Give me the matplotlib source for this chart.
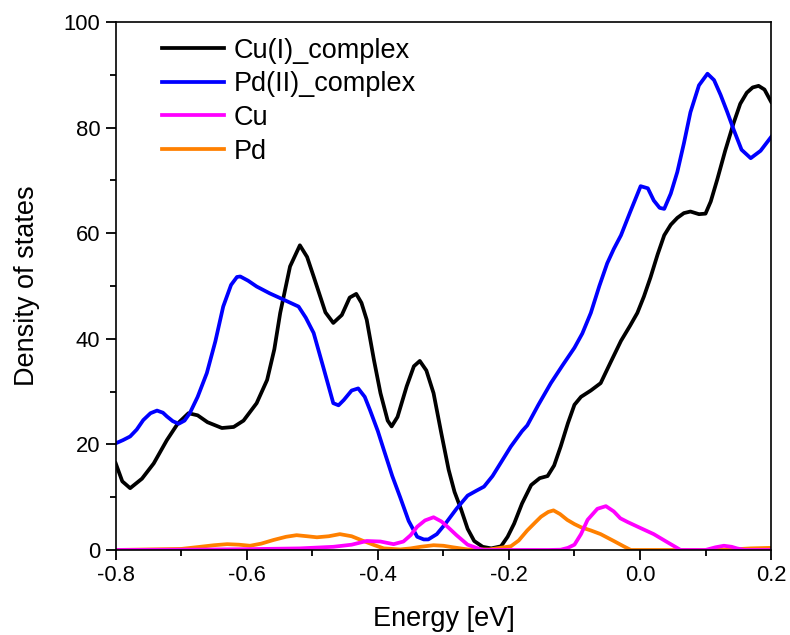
import numpy as np
import matplotlib
matplotlib.use('Agg')
import matplotlib.pyplot as plt
from matplotlib.ticker import MultipleLocator, FormatStrFormatter

plt.rcParams['font.family'] = ['Liberation Sans', 'DejaVu Sans']
plt.rcParams['axes.unicode_minus'] = False

# Cu(I)_complex (black)
cu1_x = [-0.800, -0.790, -0.778, -0.760, -0.742, -0.722, -0.705, -0.689, -0.675, -0.660,
         -0.638, -0.620, -0.605, -0.585, -0.569, -0.558, -0.549, -0.534, -0.519, -0.508,
         -0.498, -0.480, -0.468, -0.455, -0.443, -0.433, -0.425, -0.417, -0.406, -0.396,
         -0.385, -0.379, -0.370, -0.356, -0.345, -0.336, -0.326, -0.315, -0.303, -0.292,
         -0.283, -0.273, -0.263, -0.253, -0.240, -0.227, -0.212, -0.202, -0.192, -0.180,
         -0.166, -0.153, -0.141, -0.131, -0.121, -0.110, -0.100, -0.090, -0.075, -0.060,
         -0.045, -0.029, -0.015, -0.004, 0.006, 0.016, 0.027, 0.037, 0.047, 0.057,
         0.067, 0.077, 0.090, 0.100, 0.108, 0.118, 0.130, 0.143, 0.153, 0.163,
         0.172, 0.181, 0.190, 0.200]
cu1_y = [16.4, 13.0, 11.7, 13.5, 16.4, 20.8, 24.0, 25.9, 25.5, 24.2,
         23.1, 23.3, 24.5, 27.8, 32.2, 38.0, 44.9, 53.7, 57.7, 55.5,
         51.8, 45.0, 43.0, 44.5, 47.8, 48.5, 46.8, 43.6, 36.0, 29.7,
         24.5, 23.4, 25.2, 31.0, 34.8, 35.8, 34.0, 29.7, 22.0, 15.2,
         11.0, 7.7, 4.0, 1.7, 0.6, 0.3, 0.7, 2.5, 5.0, 8.8,
         12.3, 13.6, 14.0, 16.0, 19.6, 24.0, 27.5, 29.0, 30.2, 31.6,
         35.5, 39.6, 42.5, 44.9, 48.0, 51.6, 56.0, 59.6, 61.6, 62.9,
         63.8, 64.1, 63.6, 63.7, 66.0, 70.2, 75.6, 80.9, 84.5, 86.6,
         87.6, 87.9, 87.2, 84.9]

# Pd(II)_complex (blue)
pd2_x = [-0.800, -0.789, -0.778, -0.768, -0.758, -0.747, -0.737, -0.728, -0.722, -0.713,
         -0.704, -0.695, -0.687, -0.675, -0.661, -0.648, -0.636, -0.624, -0.615, -0.610,
         -0.598, -0.585, -0.565, -0.549, -0.535, -0.521, -0.510, -0.498, -0.483, -0.468,
         -0.460, -0.452, -0.440, -0.430, -0.420, -0.412, -0.400, -0.391, -0.378, -0.366,
         -0.353, -0.340, -0.330, -0.323, -0.310, -0.298, -0.280, -0.263, -0.250, -0.238,
         -0.225, -0.210, -0.197, -0.180, -0.172, -0.155, -0.136, -0.118, -0.100, -0.088,
         -0.075, -0.062, -0.050, -0.040, -0.029, -0.015, 0.001, 0.012, 0.021, 0.030,
         0.037, 0.047, 0.057, 0.067, 0.077, 0.090, 0.103, 0.113, 0.123, 0.133,
         0.143, 0.155, 0.169, 0.184, 0.200]
pd2_y = [20.2, 20.8, 21.5, 22.8, 24.6, 25.9, 26.4, 26.0, 25.3, 24.4,
         23.9, 24.5, 25.9, 29.0, 33.5, 39.5, 46.1, 50.2, 51.7, 51.8,
         51.0, 49.9, 48.6, 47.7, 46.9, 46.1, 44.0, 41.1, 34.5, 27.8,
         27.4, 28.4, 30.2, 30.6, 29.0, 26.5, 22.5, 19.0, 14.0, 10.0,
         5.5, 2.5, 2.0, 2.0, 3.0, 4.8, 7.8, 10.3, 11.2, 12.0,
         14.0, 17.0, 19.6, 22.5, 23.6, 27.5, 31.6, 35.0, 38.3, 41.0,
         44.9, 50.0, 54.3, 57.0, 59.6, 64.0, 68.9, 68.5, 66.2, 64.8,
         64.6, 67.5, 71.6, 77.0, 82.9, 88.0, 90.2, 89.0, 86.2, 83.0,
         79.6, 75.8, 74.2, 75.6, 78.2]

# Cu (magenta)
cu_x = [-0.800, -0.700, -0.600, -0.519, -0.468, -0.440, -0.417, -0.396, -0.376, -0.361,
        -0.350, -0.340, -0.328, -0.315, -0.303, -0.292, -0.280, -0.263, -0.245, -0.238,
        -0.200, -0.140, -0.121, -0.110, -0.100, -0.090, -0.080, -0.065, -0.052, -0.040,
        -0.030, -0.019, 0.000, 0.021, 0.040, 0.062, 0.100, 0.115, 0.128, 0.140,
        0.148, 0.160, 0.200]
cu_y = [0.0, 0.05, 0.15, 0.3, 0.6, 1.0, 1.7, 1.6, 1.1, 1.6,
        2.8, 4.4, 5.6, 6.2, 5.4, 4.2, 2.8, 1.0, 0.2, 0.0,
        0.0, 0.0, 0.05, 0.4, 1.0, 3.0, 5.7, 7.8, 8.3, 7.3,
        6.0, 5.3, 4.2, 3.0, 1.6, 0.0, 0.0, 0.5, 0.8, 0.6,
        0.3, 0.0, 0.0]

# Pd (orange)
pd_x = [-0.800, -0.700, -0.671, -0.650, -0.630, -0.612, -0.595, -0.578, -0.559, -0.540,
        -0.524, -0.508, -0.493, -0.475, -0.458, -0.440, -0.422, -0.405, -0.391, -0.366,
        -0.350, -0.335, -0.315, -0.300, -0.285, -0.263, -0.230, -0.197, -0.185, -0.172,
        -0.160, -0.151, -0.140, -0.132, -0.122, -0.111, -0.100, -0.090, -0.075, -0.060,
        -0.040, -0.025, -0.014, 0.100, 0.140, 0.169, 0.200]
pd_y = [0.0, 0.2, 0.6, 0.9, 1.1, 1.0, 0.8, 1.2, 1.9, 2.5,
        2.8, 2.6, 2.4, 2.6, 3.0, 2.6, 1.7, 0.9, 0.3, 0.1,
        0.3, 0.6, 0.9, 0.8, 0.5, 0.1, 0.1, 0.7, 1.8, 3.7,
        5.2, 6.3, 7.2, 7.5, 6.8, 5.7, 4.9, 4.3, 3.7, 3.0,
        1.7, 0.7, 0.0, 0.0, 0.1, 0.3, 0.4]

fig = plt.figure(figsize=(7.9, 6.35), dpi=100)
ax = fig.add_axes([0.1465, 0.1339, 0.8295, 0.8315])

lw = 2.7
ax.plot(cu1_x, cu1_y, color='black', lw=lw, label='Cu(I)_complex')
ax.plot(pd2_x, pd2_y, color='#0000ff', lw=lw, label='Pd(II)_complex')
ax.plot(pd_x, pd_y, color='#ff8000', lw=lw, label='Pd')
ax.plot(cu_x, cu_y, color='#ff00ff', lw=lw, label='Cu')

ax.set_xlim(-0.8, 0.2)
ax.set_ylim(0, 100)
ax.xaxis.set_major_locator(MultipleLocator(0.2))
ax.xaxis.set_minor_locator(MultipleLocator(0.1))
ax.yaxis.set_major_locator(MultipleLocator(20))
ax.yaxis.set_minor_locator(MultipleLocator(10))
ax.xaxis.set_major_formatter(FormatStrFormatter('%.1f'))
ax.tick_params(which='both', direction='out', top=False, right=False,
               labelsize=15.8, width=1.3)
ax.tick_params(which='major', length=7.5)
ax.tick_params(which='minor', length=4)
for s in ax.spines.values():
    s.set_linewidth(1.2)

ax.set_xlabel('Energy [eV]', fontsize=19.5, labelpad=14)
ax.set_ylabel('Density of states', fontsize=19.5, labelpad=17)

h, lab = ax.get_legend_handles_labels()
order = [0, 1, 3, 2]
ax.legend([h[i] for i in order], [lab[i] for i in order], loc='upper left',
          bbox_to_anchor=(0.0707, 0.970), frameon=False, fontsize=19.5,
          handlelength=2.3, handletextpad=0.35, labelspacing=0.28,
          borderpad=0, borderaxespad=0)

fig.savefig('out.png', dpi=100)
